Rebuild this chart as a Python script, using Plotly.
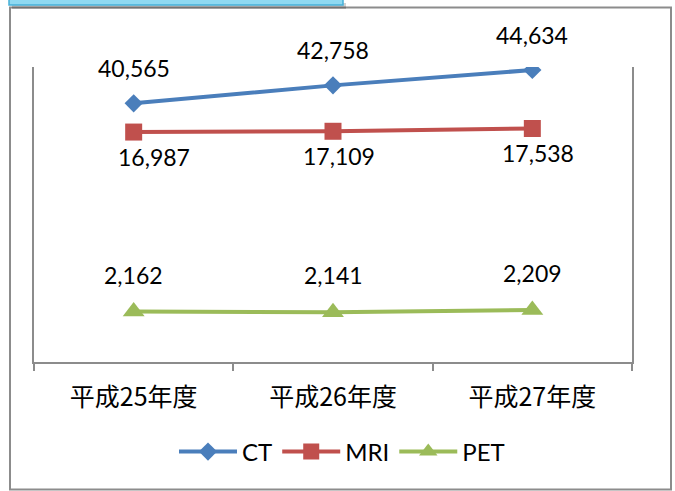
import plotly.graph_objects as go

categories = ["平成25年度", "平成26年度", "平成27年度"]
ct_values = [40565, 42758, 44634]
mri_values = [16987, 17109, 17538]
pet_values = [2162, 2141, 2209]
series_names = ["CT", "MRI", "PET"]

W, H = 675, 491
L, R, T, B = 34, 632, 67, 362  # plot area in pixels


def px_x(p):
    return (p - L) / (R - L)


def px_y(p):
    return (B - p) / (B - T)


blue = "#4A7EBB"
red = "#C0504D"
green = "#9BBB59"
gray = "#8C8C8C"
label_font = dict(family="Lato, Open Sans, sans-serif", size=23, color="#000000")

fig = go.Figure()
fig.add_trace(go.Scatter(x=categories, y=ct_values, name=series_names[0], yaxis="y",
                         mode="lines+markers", line=dict(color=blue, width=4),
                         marker=dict(symbol="diamond", size=14, color=blue)))
fig.add_trace(go.Scatter(x=categories, y=mri_values, name=series_names[1], yaxis="y2",
                         mode="lines+markers", line=dict(color=red, width=4),
                         marker=dict(symbol="square", size=17, color=red)))
fig.add_trace(go.Scatter(x=categories, y=pet_values, name=series_names[2], yaxis="y3",
                         mode="lines+markers", line=dict(color=green, width=4),
                         marker=dict(symbol="triangle-up", size=19, color=green)))

annotations = []
for c, v in zip(categories, ct_values):
    annotations.append(dict(x=c, y=v, xref="x", yref="y", text=f"{v:,}", showarrow=False,
                            yshift=35, font=label_font))
for i, (c, v) in enumerate(zip(categories, mri_values)):
    annotations.append(dict(x=c, y=v, xref="x", yref="y2", text=f"{v:,}", showarrow=False,
                            yshift=-25, xshift=(20 if i == 0 else 6), font=label_font))
for c, v in zip(categories, pet_values):
    annotations.append(dict(x=c, y=v, xref="x", yref="y3", text=f"{v:,}", showarrow=False,
                            yshift=37, font=label_font))

shapes = [
    # outer chart frame
    dict(type="rect", xref="paper", yref="paper", x0=px_x(10), x1=px_x(671),
         y0=px_y(489.5), y1=px_y(7.5), line=dict(color=gray, width=2), layer="below"),
    # shadow of the cyan box
    dict(type="rect", xref="paper", yref="paper", x0=px_x(12), x1=px_x(346),
         y0=px_y(9), y1=px_y(3), line=dict(width=0), fillcolor="rgba(0,0,0,0.18)"),
    # cyan box at the top
    dict(type="rect", xref="paper", yref="paper", x0=px_x(9), x1=px_x(343),
         y0=px_y(5), y1=px_y(-4), line=dict(color="#45B0D8", width=1.5),
         fillcolor="#8FD9F1"),
]

axis_common = dict(showgrid=False, zeroline=False, showticklabels=False, ticks="")

fig.update_layout(
    width=W, height=H,
    margin=dict(l=L, r=W - R, t=T, b=H - B),
    paper_bgcolor="white", plot_bgcolor="white",
    showlegend=True,
    legend=dict(orientation="h", x=px_x(174), xanchor="left", y=px_y(452), yanchor="middle",
                font=dict(family="Lato, Open Sans, sans-serif", size=24, color="#000000"),
                itemwidth=58, bgcolor="rgba(0,0,0,0)"),
    xaxis=dict(type="category", range=[-0.5, 2.5], showline=True, linecolor=gray, linewidth=1.5,
               ticks="outside", tickson="boundaries", ticklen=7, tickcolor=gray, tickwidth=1.5,
               showgrid=False, zeroline=False, ticklabelstandoff=12,
               tickfont=dict(family="Noto Sans CJK JP", size=25, color="#000000")),
    yaxis=dict(range=[9000, 45000], showline=True, linecolor=gray, linewidth=1.5, **axis_common),
    yaxis2=dict(range=[-18400, 27000], overlaying="y", side="right", showline=True,
                linecolor=gray, linewidth=1.5, **axis_common),
    yaxis3=dict(range=[720, 9150], overlaying="y", side="left", showline=False, **axis_common),
    annotations=annotations,
    shapes=shapes,
)

fig.write_html("out.html")
